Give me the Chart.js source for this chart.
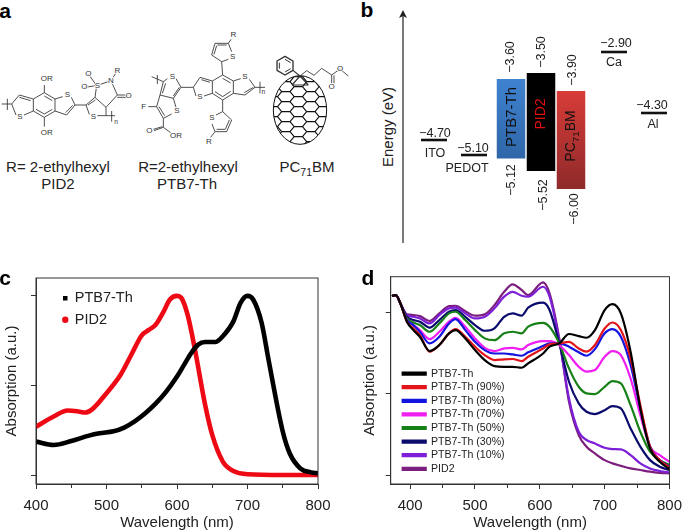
<!DOCTYPE html>
<html>
<head>
<meta charset="utf-8">
<title>PID2 / PTB7-Th</title>
<script src="https://cdn.jsdelivr.net/npm/chart.js@4"></script>
<style>
html, body { margin: 0; background: #fff; }
body { position: relative; width: 685px; height: 532px; overflow: hidden; font-family: "Liberation Sans", Arial, sans-serif; color: #222; }
canvas, svg { position: absolute; }
.t { position: absolute; white-space: nowrap; line-height: 1; }
.t sub { font-size: 70%; line-height: 0; }
#mol path, #mol polyline { fill: none; stroke: #333; stroke-width: 2.6; stroke-linejoin: round; }
#mol text { font-size: 24px; fill: #333; text-anchor: middle; dominant-baseline: middle; paint-order: stroke; stroke: #fff; stroke-width: 5px; }
</style>
</head>
<body>

<!-- panel a, coordinates in a 3x grid so it is easier to trace -->
<svg id="mol" style="left:0;top:0" width="350" height="220" viewBox="0 0 1050 660">
  <!-- PID2 -->
  <path d="M5 312H35M22 296V330M35 312L58 285L100 297V333L72 345M48 345L35 312M58 292L92 302"/>
  <path d="M100 297L133 278L165 297V333L133 352L100 333M133 288L157 302M157 328L133 342M108 328L133 342"/>
  <path d="M133 278V255M133 352V380M165 297L188 290M214 292L225 315L200 345L165 333M218 316L197 338"/>
  <path d="M225 315H258L285 292L318 322V347M264 315L286 300M258 315L268 343M292 347L318 347H345M335 333V365"/>
  <path d="M285 292L290 257L333 242L352 285L318 322M352 285H385M352 292H385M290 257L265 222M290 257L253 262M333 242L352 212"/>
  <text x="140" y="238">OR</text><text x="140" y="400">OR</text><text x="202" y="284">S</text><text x="60" y="350">S</text><text x="280" y="350">S</text>
  <text x="292" y="257">S</text><text x="333" y="242">N</text><text x="265" y="222">O</text><text x="253" y="262">O</text><text x="352" y="212">R</text><text x="386" y="287">O</text><text x="348" y="367" style="font-size:20px">n</text>
  <!-- PTB7-Th -->
  <path d="M455 230L490 245M472 225V252M490 245L502 236M528 236L543 262L520 295L480 285L490 245M497 250L487 280M538 262L520 288"/>
  <path d="M480 285L470 320L490 355L515 342M520 295L528 322M477 320L494 347M445 320H470M490 355V382L462 392M487 380L460 388M490 382L512 398"/>
  <path d="M543 262H580L600 232L637 243V280L612 288M588 288L580 262M604 239L630 247"/>
  <path d="M637 243L668 225L700 243V280L668 300L637 280M668 235L692 249M692 274L668 290M645 275L668 290"/>
  <path d="M700 243L722 236M748 238L765 262L735 285L700 280M760 262L733 278M765 262H795M780 245V280"/>
  <path d="M668 225L665 185L635 165L645 130L685 130L695 155M665 185L685 178M642 163L650 137M680 135H652M685 130L693 118"/>
  <path d="M668 300L668 335L695 360L680 395L645 395L636 372M668 335L648 345M688 360L676 388M650 388H675M645 395L632 412"/>
  <text x="517" y="232">S</text><text x="531" y="333">S</text><text x="431" y="320">F</text><text x="448" y="392">O</text><text x="528" y="407">OR</text>
  <text x="600" y="292">S</text><text x="735" y="230">S</text><text x="698" y="170">S</text><text x="700" y="105">R</text><text x="636" y="355">S</text><text x="627" y="427">R</text><text x="790" y="278" style="font-size:20px">n</text>
  <!-- PC71BM -->
  <g id="cage"></g>
  <path d="M855 169L879 183V211L855 225L831 211V183Z" style="stroke-width:4"/>
  <path d="M855 178L872 188M872 206L855 216M838 206V188" style="stroke-width:3"/>
  <path d="M879 211L900 228M876 255L900 228L925 255M876 255H925" style="stroke-width:3.5"/>
  <path d="M900 228L920 212L942 226L965 205L995 225V250M1002 226V250M995 225L1020 207L1045 228"/>
  <text x="995" y="262">O</text><text x="1020" y="207">O</text>
</svg>

<script>
// --- panel b
const energyMaterials = ['PTB7-Th', 'PID2', 'PC71BM'];
const lumoLevels = [-3.60, -3.50, -3.90];
const homoLevels = [-5.12, -5.52, -6.00];
const anodeNames = ['ITO', 'PEDOT'];
const anodeLevels = [-4.70, -5.10];
const cathodeNames = ['Ca', 'Al'];
const cathodeLevels = [-2.90, -4.30];

// --- panel c
const ptb7Wavelength = [400, 425, 450, 475, 490, 510, 525, 540, 555, 570, 585, 600, 610, 620, 630, 640, 655, 665, 680, 690, 700, 708, 720, 730, 750, 760, 775, 790, 800];
const ptb7Absorption = [0.187, 0.168, 0.19, 0.22, 0.233, 0.244, 0.265, 0.30, 0.345, 0.40, 0.467, 0.55, 0.615, 0.68, 0.728, 0.743, 0.743, 0.775, 0.858, 0.96, 1, 0.98, 0.85, 0.64, 0.243, 0.12, 0.037, 0.015, 0.01];
const pid2Wavelength = [400, 425, 445, 460, 470, 480, 500, 520, 535, 550, 560, 570, 580, 590, 600, 606, 615, 625, 640, 650, 665, 680, 700, 750, 800];
const pid2Absorption = [0.27, 0.327, 0.36, 0.355, 0.349, 0.368, 0.457, 0.56, 0.67, 0.78, 0.81, 0.84, 0.905, 0.98, 1, 0.99, 0.895, 0.71, 0.39, 0.224, 0.075, 0.022, 0.004, 0, 0];

// --- panel d
const blendWavelength = [372, 378, 385, 395, 405, 415, 430, 445, 460, 470, 485, 500, 515, 530, 545, 558, 572, 582, 605, 615, 630, 645, 660, 672, 685, 700, 712, 725, 740, 755, 770, 785, 800];
const blendStart = [1.103, 1.109, 1.057];
const blendPtb7 = [0.945, 0.893, 0.852, 0.764, 0.801, 0.873, 0.893, 0.842, 0.770, 0.708, 0.671, 0.667, 0.667, 0.661, 0.688, 0.749, 0.791, 0.811, 0.869, 0.856, 0.846, 0.893, 1.016, 1.053, 0.996, 0.760, 0.411, 0.164, 0.082, 0.037];
const blend90 = [0.945, 0.903, 0.862, 0.760, 0.801, 0.873, 0.899, 0.852, 0.791, 0.739, 0.708, 0.713, 0.715, 0.702, 0.729, 0.780, 0.805, 0.811, 0.821, 0.780, 0.760, 0.801, 0.903, 0.940, 0.893, 0.719, 0.431, 0.175, 0.092, 0.047];
const blend80 = [0.955, 0.924, 0.883, 0.811, 0.852, 0.934, 0.961, 0.893, 0.821, 0.770, 0.749, 0.749, 0.743, 0.735, 0.756, 0.795, 0.811, 0.811, 0.791, 0.756, 0.735, 0.776, 0.873, 0.899, 0.852, 0.678, 0.411, 0.175, 0.092, 0.051];
const blend70 = [0.955, 0.924, 0.893, 0.838, 0.883, 0.945, 0.969, 0.914, 0.842, 0.784, 0.764, 0.780, 0.784, 0.774, 0.801, 0.825, 0.825, 0.801, 0.739, 0.667, 0.637, 0.647, 0.729, 0.764, 0.739, 0.595, 0.370, 0.175, 0.123, 0.082];
const blend50 = [0.965, 0.940, 0.924, 0.883, 0.934, 0.996, 1.006, 0.955, 0.893, 0.842, 0.831, 0.873, 0.883, 0.873, 0.914, 0.938, 0.914, 0.811, 0.657, 0.544, 0.503, 0.499, 0.544, 0.579, 0.565, 0.431, 0.267, 0.144, 0.092, 0.062];
const blend30 = [0.975, 0.955, 0.945, 0.908, 0.955, 1.006, 1.017, 0.975, 0.924, 0.889, 0.904, 0.975, 0.996, 0.982, 1.031, 1.062, 1.017, 0.811, 0.575, 0.442, 0.390, 0.376, 0.400, 0.425, 0.411, 0.287, 0.175, 0.092, 0.051, 0.031];
const blend10 = [0.986, 0.975, 0.965, 0.934, 0.986, 1.027, 1.031, 0.996, 0.965, 0.975, 1.027, 1.099, 1.129, 1.105, 1.099, 1.160, 1.099, 0.832, 0.472, 0.267, 0.216, 0.195, 0.168, 0.160, 0.158, 0.123, 0.072, 0.041, 0.025, 0.016];
const blendPid2 = [0.990, 0.986, 0.979, 0.949, 0.996, 1.041, 1.043, 1.010, 0.982, 0.990, 1.047, 1.129, 1.175, 1.140, 1.109, 1.187, 1.119, 0.842, 0.452, 0.246, 0.175, 0.133, 0.092, 0.072, 0.057, 0.041, 0.031, 0.021, 0.014, 0.010];
const blendNames = ['PTB7-Th', 'PTB7-Th (90%)', 'PTB7-Th (80%)', 'PTB7-Th (70%)', 'PTB7-Th (50%)', 'PTB7-Th (30%)', 'PTB7-Th (10%)', 'PID2'];
const blendSeries = [blendPtb7, blend90, blend80, blend70, blend50, blend30, blend10, blendPid2];
const blendColors = ['#000000', '#e3141a', '#1414e0', '#f01ef0', '#178017', '#0b0b6e', '#7d1fd8', '#7b1e7e'];

Chart.defaults.font.family = '"Liberation Sans", Arial, sans-serif';
Chart.defaults.color = '#222';
Chart.defaults.animation = false;
Chart.defaults.events = [];
Chart.defaults.responsive = false;

function addCanvas(left, top, w, h) {
    const c = document.createElement('canvas');
    c.width = w;
    c.height = h;
    c.style.left = left + 'px';
    c.style.top = top + 'px';
    document.body.appendChild(c);
    return c;
}

function addText(html, x, y, size, opts) {
    opts = opts || {};
    const s = document.createElement('div');
    s.className = 't';
    s.innerHTML = html;
    s.style.left = x + 'px';
    s.style.top = y + 'px';
    s.style.fontSize = size + 'px';
    if (opts.color) s.style.color = opts.color;
    if (opts.bold) s.style.fontWeight = 'bold';
    s.style.transform = 'translate(-50%,-50%)' + (opts.rot ? ' rotate(-90deg)' : '');
    document.body.appendChild(s);
}

// the cage of the fullerene, just a honeycomb cut by an ellipse
(function () {
    const ns = 'http://www.w3.org/2000/svg';
    const g = document.querySelector('#cage');
    const defs = document.createElementNS(ns, 'clipPath');
    defs.id = 'cageClip';
    defs.innerHTML = '<ellipse cx="900" cy="330" rx="80" ry="103"/>';
    g.appendChild(defs);
    const comb = document.createElementNS(ns, 'g');
    comb.setAttribute('clip-path', 'url(#cageClip)');
    let d = '';
    const r = 25;
    for (let row = 0; row < 9; row++) {
        for (let col = 0; col < 7; col++) {
            const cx = 820 + col * r * 1.5;
            const cy = 215 + row * r * 1.2 + (col % 2 ? r * 0.6 : 0);
            d += `M${cx - r / 2} ${cy - r * 0.6}H${cx + r / 2}L${cx + r} ${cy}L${cx + r / 2} ${cy + r * 0.6}H${cx - r / 2}L${cx - r} ${cy}Z`;
        }
    }
    comb.innerHTML = `<path d="${d}" style="stroke-width:3.4;stroke:#111"/>`;
    g.appendChild(comb);
    const edge = document.createElementNS(ns, 'ellipse');
    edge.setAttribute('cx', 900);
    edge.setAttribute('cy', 330);
    edge.setAttribute('rx', 80);
    edge.setAttribute('ry', 103);
    edge.setAttribute('style', 'fill:none;stroke:#111;stroke-width:3');
    g.appendChild(edge);
})();

// panel b is a schematic and not to scale, so the values get a hidden axis per
// group, set so a value lands where the figure puts it
const PANEL_B_H = 250;
function fitAxis(v1, px1, v2, px2) {
    const perPx = (v1 - v2) / (px2 - px1);
    return {
        display: false,
        max: v1 + px1 * perPx,
        min: v1 - (PANEL_B_H - px1) * perPx,
    };
}

function levelChart(left, width, names, levels, axis) {
    return new Chart(addCanvas(left, 0, width, PANEL_B_H), {
        type: 'line',
        data: {
            labels: names,
            datasets: [{
                data: levels,
                showLine: false,
                pointStyle: 'line',
                pointRadius: 13,
                pointBorderWidth: 2.6,
                pointBorderColor: '#111',
            }],
        },
        options: {
            layout: { autoPadding: false },
            plugins: { legend: { display: false } },
            scales: { x: { display: false, offset: true }, y: axis },
        },
    });
}

levelChart(414, 80, anodeNames, anodeLevels, fitAxis(-4.70, 140, -5.10, 155));
levelChart(594, 80, cathodeNames, cathodeLevels, fitAxis(-2.90, 52, -4.30, 113));

function barGradient(top, bottom) {
    return function (c) {
        const el = c.chart.getDatasetMeta(c.datasetIndex).data[c.dataIndex];
        if (!c.chart.chartArea || !el) return top;
        const yScale = c.chart.scales['y' + c.datasetIndex];
        const g = c.chart.ctx.createLinearGradient(0, yScale.getPixelForValue(lumoLevels[c.datasetIndex]), 0, yScale.getPixelForValue(homoLevels[c.datasetIndex]));
        g.addColorStop(0, top);
        g.addColorStop(1, bottom);
        return g;
    };
}

const barFills = [barGradient('#3f82cf', '#2f66a8'), '#000000', barGradient('#d83c38', '#8e2a2a')];

new Chart(addCanvas(496, 0, 90, PANEL_B_H), {
    type: 'bar',
    data: {
        labels: energyMaterials,
        datasets: energyMaterials.map((name, i) => ({
            label: name,
            data: energyMaterials.map((_, j) => (j === i ? [homoLevels[i], lumoLevels[i]] : null)),
            yAxisID: 'y' + i,
            backgroundColor: barFills[i],
            grouped: false,
            barPercentage: 0.95,
            categoryPercentage: 1,
        })),
    },
    options: {
        plugins: { legend: { display: false } },
        scales: {
            x: { display: false },
            y0: fitAxis(-3.60, 79, -5.12, 158.5),
            y1: fitAxis(-3.50, 73, -5.52, 171),
            y2: fitAxis(-3.90, 91, -6.00, 189),
        },
    },
});

// frame all round the plot
const framePlugin = {
    id: 'frame',
    afterDatasetsDraw(chart) {
        const a = chart.chartArea;
        const ctx = chart.ctx;
        ctx.save();
        ctx.strokeStyle = '#333';
        ctx.lineWidth = 1;
        ctx.strokeRect(a.left, a.top, a.right - a.left, a.bottom - a.top);
        ctx.restore();
    },
};

// the legend sits inside the plot, this moves it from the corner to its place
const moveLegend = {
    id: 'moveLegend',
    afterLayout(chart, args, opts) {
        chart.legend.left += opts.dx;
        chart.legend.right += opts.dx;
        chart.legend.top += opts.dy;
        chart.legend.bottom += opts.dy;
    },
};

function spectrumOptions(cfg) {
    return {
        layout: { padding: { top: cfg.top, right: cfg.right } },
        plugins: {
            legend: {
                position: 'chartArea',
                align: 'start',
                labels: cfg.legend,
            },
            moveLegend: cfg.move,
        },
        scales: {
            x: {
                type: 'linear',
                min: cfg.xMin,
                max: 800,
                afterFit(s) { s.height = 48; },
                grid: {
                    drawOnChartArea: false,
                    tickLength: 5,
                    tickColor: '#333',
                    tickBorderDash: c => (c.tick && c.tick.value % 100 ? [3, 10] : []),
                },
                border: { color: '#333' },
                ticks: {
                    stepSize: 50,
                    includeBounds: false,
                    autoSkip: false,
                    maxRotation: 0,
                    padding: 8,
                    font: { size: 15 },
                    callback: v => (v % 100 === 0 ? v : ''),
                },
                title: { display: true, text: 'Wavelength (nm)', font: { size: 15 }, padding: 0 },
            },
            y: {
                min: cfg.yMin,
                max: cfg.yMax,
                afterFit(s) { s.width = cfg.yWidth; },
                grid: { drawOnChartArea: false, tickLength: 5, tickColor: '#333' },
                border: { color: '#333' },
                ticks: { display: false, stepSize: 0.5, includeBounds: false },
                title: { display: true, text: 'Absorption (a.u.)', font: { size: 15 }, padding: { top: 3, bottom: 0 } },
            },
        },
    };
}

// panel c
new Chart(addCanvas(0, 265, 340, 267), {
    type: 'line',
    plugins: [framePlugin, moveLegend],
    data: {
        datasets: [
            {
                label: 'PTB7-Th',
                data: ptb7Wavelength.map((x, i) => ({ x: x, y: ptb7Absorption[i] })),
                borderColor: '#000',
                backgroundColor: '#000',
                borderWidth: 4.6,
                cubicInterpolationMode: 'monotone',
                pointRadius: 0,
                pointStyle: 'rect',
                pointBackgroundColor: '#000',
                pointBorderWidth: 0,
            },
            {
                label: 'PID2',
                data: pid2Wavelength.map((x, i) => ({ x: x, y: pid2Absorption[i] })),
                borderColor: '#ee0a14',
                backgroundColor: '#ee0a14',
                borderWidth: 4.6,
                cubicInterpolationMode: 'monotone',
                pointRadius: 0,
                pointStyle: 'circle',
                pointBackgroundColor: '#ee0a14',
                pointBorderWidth: 0,
            },
        ],
    },
    options: spectrumOptions({
        top: 13, right: 22, yWidth: 36, xMin: 400, yMin: -0.05, yMax: 1.1,
        legend: { usePointStyle: true, boxHeight: 4.5, boxWidth: 4.5, padding: 7, font: { size: 14.5 }, color: '#222' },
        move: { dx: 20, dy: 19 },
    }),
});

// panel d
new Chart(addCanvas(358, 265, 332, 267), {
    type: 'line',
    plugins: [framePlugin, moveLegend],
    data: {
        datasets: blendNames.map((name, i) => ({
            label: name,
            data: blendWavelength.map((x, j) => ({ x: x, y: j < 3 ? blendStart[j] : blendSeries[i][j - 3] })),
            borderColor: blendColors[i],
            backgroundColor: blendColors[i],
            borderWidth: 2.2,
            cubicInterpolationMode: 'monotone',
            pointRadius: 0,
        })),
    },
    options: spectrumOptions({
        top: 11.7, right: 16.7, yWidth: 32.7, xMin: 370, yMin: -0.055, yMax: 1.222,
        legend: { boxWidth: 23, boxHeight: 2, padding: 3, font: { size: 10.6 }, color: '#222' },
        move: { dx: 9, dy: 100.3 },
    }),
});

// text of panels a and b, and the panel letters
addText('a', 5, 10, 21, { bold: true, color: '#000' });
addText('b', 367, 9, 21, { bold: true, color: '#000' });
addText('c', 5, 277, 21, { bold: true, color: '#000' });
addText('d', 368, 277, 21, { bold: true, color: '#000' });

addText('R= 2-ethylhexyl', 58, 166, 15);
addText('PID2', 58, 183, 15);
addText('R=2-ethylhexyl', 188, 166, 15);
addText('PTB7-Th', 187, 183, 15);
addText('PC<sub>71</sub>BM', 307, 166, 15);

addText('Energy (eV)', 387, 127, 15, { rot: true });
addText('\u22124.70', 435, 133, 12.5);
addText('ITO', 435, 153, 12.5);
addText('\u22125.10', 473, 148, 12.5);
addText('PEDOT', 467, 168, 12.5);
addText('\u22122.90', 616, 43, 12.5);
addText('Ca', 614, 62, 12.5);
addText('\u22124.30', 652, 105, 12.5);
addText('Al', 653, 124, 12.5);
addText('\u22123.60', 510, 57, 12.5, { rot: true });
addText('\u22123.50', 541, 52, 12.5, { rot: true });
addText('\u22123.90', 572, 70, 12.5, { rot: true });
addText('\u22125.12', 511, 180, 12.5, { rot: true });
addText('\u22125.52', 543, 195, 12.5, { rot: true });
addText('\u22126.00', 574, 209, 12.5, { rot: true });
addText('PTB7-Th', 510, 117, 15, { rot: true, color: '#111' });
addText('PID2', 540, 114, 14, { rot: true, color: '#e01010' });
addText('PC<sub>71</sub>BM', 570, 136, 14, { rot: true, color: '#111' });
</script>

<!-- energy arrow of panel b -->
<svg style="left:395px;top:5px" width="16" height="242">
  <path d="M8 238V8" stroke="#222" stroke-width="1.2" fill="none"/>
  <path d="M8 5L4 13L8 11L12 13Z" fill="#222"/>
</svg>
</body>
</html>
